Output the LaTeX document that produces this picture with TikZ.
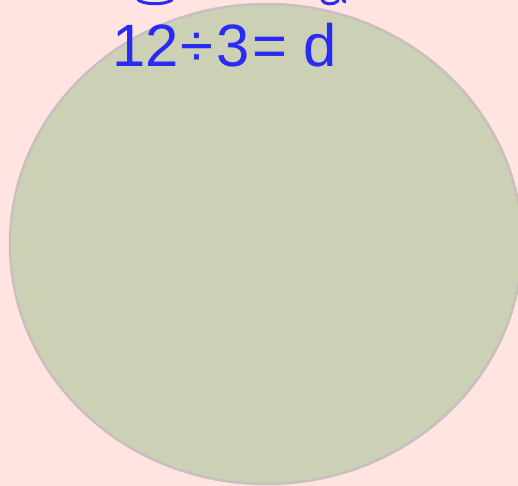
\documentclass[tikz,border=0pt]{standalone}
\usepackage{fontspec}
\setmainfont{Liberation Sans}
\definecolor{pagebg}{HTML}{FFE4E2}
\definecolor{discfill}{HTML}{CCD1B5}
\definecolor{discline}{HTML}{C9BFBF}
\definecolor{ink}{HTML}{2A2AF5}
\tikzset{
  inktext/.style={text=ink,font=\fontsize{60}{60}\selectfont,inner sep=0pt},
  inkline/.style={draw=ink,line width=3pt,line cap=round}
}
\begin{document}
\begin{tikzpicture}[x=1bp,y=-1bp]
\fill[pagebg] (0,0) rectangle (518,486);
\useasboundingbox (0,0) rectangle (518,486);
% disc
\draw[discline,fill=discfill,line width=2.5pt] (266,244) ellipse [x radius=256,y radius=240];
% line cut off at the top
\draw[inkline] (138,0) .. controls (145,5) and (165,5) .. (172,0);
\draw[inkline] (322,0) .. controls (324,5) and (334,5) .. (338,1);
\draw[inkline] (343,0) -- (345,2);
% equation
\node[inktext,anchor=base west] (eq) at (112,67) {12\hspace{2bp}÷\hspace{3bp}3\hspace{3bp}=\hspace{16bp}d};
\end{tikzpicture}
\end{document}
